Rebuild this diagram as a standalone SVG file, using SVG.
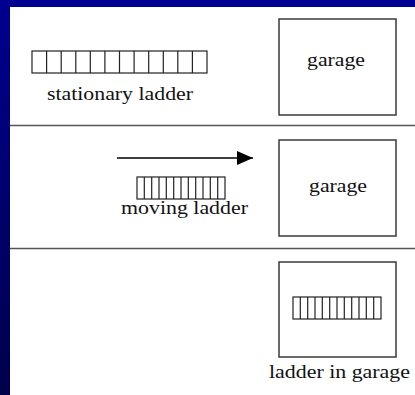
<svg xmlns="http://www.w3.org/2000/svg" width="415" height="395" viewBox="0 0 415 395">
<defs>
<linearGradient id="bg" x1="0" y1="0" x2="0" y2="1">
<stop offset="0" stop-color="#000090"/>
<stop offset="1" stop-color="#00004c"/>
</linearGradient>
<marker id="ah" viewBox="0 0 16 14" refX="16" refY="7" markerWidth="16" markerHeight="14" markerUnits="userSpaceOnUse" orient="auto">
<path d="M0,0 L16,7 L0,14 Z" fill="#000"/>
</marker>
<style>
.box{fill:none;stroke:#3a3a3a;stroke-width:1.5}
.lad{fill:#fff;stroke:#222;stroke-width:1.2}
.rung{stroke:#222;stroke-width:1.2}
.sep{stroke:#555;stroke-width:1.5}
text{font-family:"Liberation Serif","Times New Roman",serif;fill:#111;text-anchor:middle}
.lbl{font-size:18.5px}
</style>
</defs>
<rect x="0" y="0" width="415" height="395" fill="url(#bg)"/>
<rect x="0" y="0" width="415" height="7" fill="#000090"/>
<rect x="10" y="7" width="405" height="388" fill="#fff"/>
<g id="separators">
<line class="sep" x1="10" y1="125.5" x2="415" y2="125.5"/>
<line class="sep" x1="10" y1="248.5" x2="415" y2="248.5"/>
</g>
<g id="stationary-ladder">
<rect class="lad" x="32" y="51" width="175" height="22"/>
<path class="rung" d="M46.6,51V73M61.2,51V73M75.8,51V73M90.3,51V73M104.9,51V73M119.5,51V73M134.1,51V73M148.7,51V73M163.3,51V73M177.8,51V73M192.4,51V73"/>
<text class="lbl" x="120" y="100" textLength="146" lengthAdjust="spacingAndGlyphs">stationary ladder</text>
</g>
<g id="garage-1">
<rect class="box" x="279" y="19" width="117" height="96"/>
<text class="lbl" x="336" y="66" textLength="58" lengthAdjust="spacingAndGlyphs">garage</text>
</g>
<g id="moving-ladder">
<rect class="lad" x="137" y="177" width="88" height="22"/>
<path class="rung" d="M144.3,177V199M151.7,177V199M159,177V199M166.3,177V199M173.7,177V199M181,177V199M188.3,177V199M195.7,177V199M203,177V199M210.3,177V199M217.7,177V199"/>
<text class="lbl" x="184.5" y="214" textLength="127" lengthAdjust="spacingAndGlyphs">moving ladder</text>
</g>
<g id="connectors">
<line x1="117" y1="158" x2="253" y2="158" stroke="#000" stroke-width="1.5" marker-end="url(#ah)"/>
</g>
<g id="garage-2">
<rect class="box" x="279" y="140" width="117" height="96"/>
<text class="lbl" x="338" y="191.5" textLength="58" lengthAdjust="spacingAndGlyphs">garage</text>
</g>
<g id="garage-3">
<rect class="box" x="279" y="262" width="117" height="95"/>
<rect class="lad" x="293" y="297" width="88" height="22"/>
<path class="rung" d="M300.3,297V319M307.7,297V319M315,297V319M322.3,297V319M329.7,297V319M337,297V319M344.3,297V319M351.7,297V319M359,297V319M366.3,297V319M373.7,297V319"/>
<text class="lbl" x="339.5" y="377.5" textLength="141" lengthAdjust="spacingAndGlyphs">ladder in garage</text>
</g>
</svg>
